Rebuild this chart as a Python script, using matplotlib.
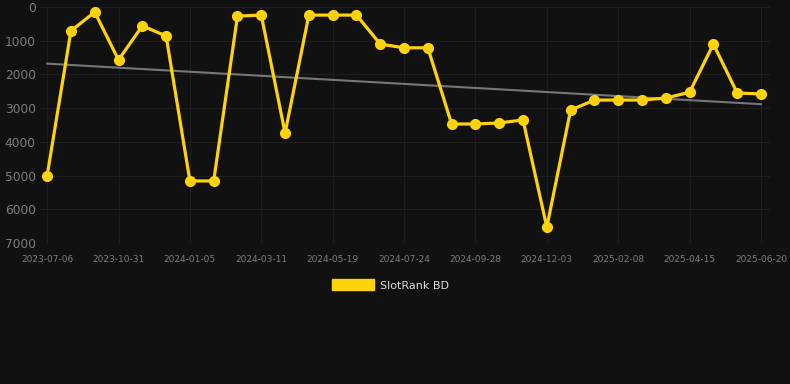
import numpy as np
import matplotlib
matplotlib.use("Agg")
from matplotlib import pyplot as plt
from matplotlib.patches import Patch

# rank per snapshot (lower is better, axis is inverted)
ranks = [5000, 710, 150, 1570, 560, 860, 5160, 5160, 270, 240,
         3740, 240, 240, 240, 1100, 1210, 1210, 3470, 3470, 3440,
         3350, 6530, 3060, 2760, 2760, 2760, 2700, 2530, 1100, 2550,
         2580]
tick_labels = ['2023-07-06', '2023-10-31', '2024-01-05', '2024-03-11', '2024-05-19',
               '2024-07-24', '2024-09-28', '2024-12-03', '2025-02-08', '2025-04-15',
               '2025-06-20']
series_name = 'SlotRank BD'

bg = '#111111'
gold = '#FFD20A'

x = np.arange(len(ranks))
coef = np.polyfit(x, ranks, 1)
trend = np.polyval(coef, x)

fig = plt.figure(figsize=(7.9, 3.84), dpi=100, facecolor=bg)
ax = fig.add_axes([40 / 790, 1 - 243 / 384, 730 / 790, 236 / 384])
ax.set_facecolor(bg)

ax.plot(x, trend, color='#777777', lw=1.5, zorder=2)
ax.plot(x, ranks, color=gold, lw=2.3, marker='o', markersize=7, zorder=3)

ax.set_xlim(-0.3, 30.38)
ax.set_ylim(7000, 0)
ax.set_yticks(range(0, 7001, 1000))
ax.set_xticks(x[::3])
ax.set_xticklabels(tick_labels)

ax.grid(True, color='#1e1e1e', lw=0.8)
for s in ax.spines.values():
    s.set_visible(False)
ax.axhline(7000, color='#2c2c2c', lw=0.8)
ax.tick_params(axis='y', length=0, colors='#7c7c7c', labelsize=8.8, pad=3)
ax.tick_params(axis='x', length=0, colors='#7c7c7c', labelsize=6.5, pad=9)

fig.legend(handles=[Patch(color=gold)], labels=[series_name], loc='center',
           bbox_to_anchor=(0.494, 1 - 285 / 384), frameon=False, fontsize=8,
           labelcolor='#dddddd', handlelength=3.8, handleheight=1.1, handletextpad=0.5)

fig.savefig('out.png', dpi=100, facecolor=bg)
